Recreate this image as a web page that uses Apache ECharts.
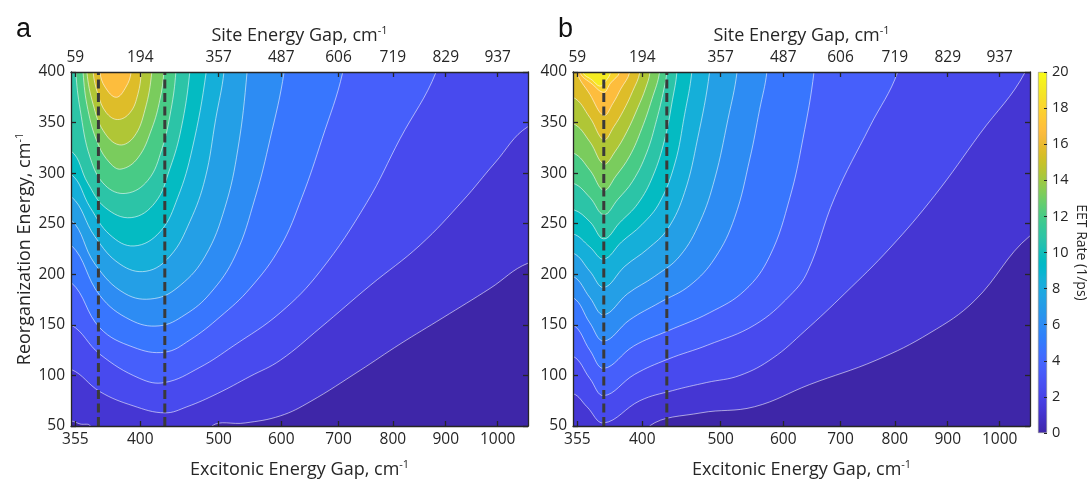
<!DOCTYPE html>
<html>
<head>
<meta charset="utf-8">
<script src="https://cdn.jsdelivr.net/npm/echarts@6/dist/echarts.min.js"></script>
<style>
  html, body { margin: 0; padding: 0; background: #fff; }
  #chart { width: 1089px; height: 484px; }
</style>
</head>
<body>
<div id="chart"></div>
<script>
// Shared tick marks: positions on the (linear) site energy gap scale
const siteGapTicks = [59, 194, 357, 487, 606, 719, 829, 937];
const siteGapLabels = ['59', '194', '357', '487', '606', '719', '829', '937'];
const excitonicGapLabels = ['355', '400', '500', '600', '700', '800', '900', '1000'];
const siteGapRange = [50, 1000];
const reorgRange = [50, 400];
const rateRange = [0, 20];

// Dashed guide lines (site energy gap, cm-1)
const guidesA = [107, 245];
const guidesB = [114, 245];

// Contour levels of the EET rate (1/ps)
const levelsA = [1.2, 2.4, 3.6, 4.8, 6.0, 7.2, 8.4, 9.6, 10.8, 12.0, 13.2, 14.4, 15.6, 16.8];
const levelsB = [1.2, 2.4, 3.6, 4.8, 6.0, 7.2, 8.4, 9.6, 10.8, 12.0, 13.2, 14.4, 15.6, 16.8, 18.0, 19.2];

// Contour lines, panel a: pieces of [site gap, reorganization energy],
// each running with the higher-rate side on its left
const a01 = [[[50, 55], [69, 52], [90, 50]],
             [[343, 50], [412, 53], [485, 60], [547, 74], [651, 105], [734, 131], [823, 157], [921, 186], [1000, 211]]];
const a02 = [[[50, 106], [110, 84], [179, 70], [245, 63], [291, 69], [354, 82], [422, 99], [485, 115], [568, 147], [672, 189], [776, 229], [865, 273], [931, 310], [1000, 346]]];
const a03 = [[[50, 150], [110, 121], [193, 97], [245, 93], [318, 108], [387, 129], [485, 162], [568, 203], [665, 271], [734, 334], [809, 400]]];
const a04 = [[[50, 192], [110, 147], [179, 128], [245, 123], [297, 135], [360, 158], [422, 186], [485, 227], [530, 276], [572, 334], [615, 400]]];
const a05 = [[[50, 229], [110, 179], [173, 155], [233, 149], [287, 160], [339, 181], [391, 218], [433, 276], [464, 334], [493, 400]]];
const a06 = [[[50, 254], [100, 210], [162, 181], [223, 176], [277, 189], [329, 218], [370, 266], [397, 324], [416, 400]]];
const a07 = [[[50, 277], [100, 237], [152, 210], [206, 203], [256, 218], [297, 252], [329, 295], [351, 354], [368, 400]]];
const a08 = [[[50, 299], [90, 266], [131, 239], [181, 228], [235, 242], [272, 276], [302, 324], [331, 400]]];
const a09 = [[[50, 322], [85, 290], [121, 266], [175, 256], [225, 271], [256, 305], [279, 344], [297, 400]]];
const a10 = [[[60, 400], [69, 363], [90, 315], [121, 288], [164, 280], [210, 293], [239, 324], [258, 363], [268, 400]]];
const a11 = [[[75, 400], [85, 363], [106, 329], [131, 310], [154, 304], [189, 315], [218, 344], [235, 373], [243, 400]]];
const a12 = [[[83, 400], [96, 368], [117, 342], [150, 328], [181, 336], [204, 363], [218, 400]]];
const a13 = [[[96, 400], [106, 378], [123, 360], [147, 353], [173, 360], [189, 378], [196, 400]]];
const a14 = [[[110, 400], [121, 385], [144, 375], [164, 385], [175, 400]]];

// Contour lines, panel b
const b01 = [[[209, 50], [316, 63], [427, 69], [542, 91], [680, 115], [792, 142], [885, 174], [1000, 238]]];
const b02 = [[[50, 82], [79, 69], [114, 53], [189, 75], [257, 85], [328, 93], [397, 100], [465, 117], [532, 144], [615, 181], [709, 226], [802, 278], [896, 339], [990, 400]]];
const b03 = [[[50, 119], [85, 97], [114, 80], [178, 101], [247, 116], [330, 130], [428, 150], [501, 179], [538, 203], [594, 276], [667, 346], [725, 400]]];
const b04 = [[[50, 150], [85, 125], [114, 107], [176, 129], [247, 144], [334, 162], [407, 184], [459, 218], [501, 276], [528, 334], [551, 400]]];
const b05 = [[[50, 177], [85, 152], [114, 134], [168, 155], [230, 172], [293, 189], [345, 216], [386, 256], [418, 315], [438, 363], [453, 400]]];
const b06 = [[[50, 198], [85, 177], [114, 160], [164, 181], [220, 198], [272, 218], [314, 252], [345, 295], [372, 353], [391, 400]]];
const b07 = [[[50, 221], [85, 203], [114, 187], [158, 208], [205, 225], [247, 245], [282, 281], [309, 334], [334, 400]]];
const b08 = [[[50, 240], [85, 227], [114, 215], [151, 232], [193, 249], [230, 271], [262, 310], [282, 358], [297, 400]]];
const b09 = [[[50, 264], [85, 252], [114, 235], [147, 251], [185, 270], [216, 297], [241, 334], [257, 373], [266, 400]]];
const b10 = [[[50, 290], [85, 276], [114, 259], [143, 274], [174, 292], [203, 320], [224, 353], [239, 383], [245, 400]]];
const b11 = [[[50, 320], [85, 303], [114, 283], [139, 297], [168, 317], [193, 344], [214, 373], [230, 400]]];
const b12 = [[[50, 349], [85, 331], [114, 309], [137, 321], [162, 341], [185, 365], [201, 384], [210, 400]]];
const b13 = [[[50, 375], [85, 355], [114, 333], [135, 346], [155, 362], [174, 381], [189, 400]]];
const b14 = [[[58, 400], [85, 378], [114, 357], [133, 369], [149, 383], [168, 400]]];
const b15 = [[[64, 400], [90, 388], [114, 380], [128, 389], [147, 400]]];
const b16 = [[[70, 400], [90, 392], [106, 386], [118, 391], [128, 400]]];

const contoursA = [a01, a02, a03, a04, a05, a06, a07, a08, a09, a10, a11, a12, a13, a14];
const contoursB = [b01, b02, b03, b04, b05, b06, b07, b08, b09, b10, b11, b12, b13, b14, b15, b16];

// Parula colormap, 64 entries
const PARULA = [
  [0.2422,0.1504,0.6603],[0.2504,0.1650,0.7076],[0.2578,0.1818,0.7511],[0.2647,0.1978,0.7952],
  [0.2706,0.2147,0.8364],[0.2751,0.2342,0.8710],[0.2783,0.2559,0.8991],[0.2803,0.2782,0.9221],
  [0.2813,0.3006,0.9414],[0.2810,0.3228,0.9579],[0.2795,0.3447,0.9717],[0.2760,0.3667,0.9829],
  [0.2699,0.3892,0.9906],[0.2602,0.4123,0.9952],[0.2440,0.4358,0.9988],[0.2206,0.4603,0.9973],
  [0.1963,0.4847,0.9892],[0.1834,0.5074,0.9798],[0.1786,0.5289,0.9682],[0.1764,0.5499,0.9520],
  [0.1687,0.5703,0.9359],[0.1540,0.5902,0.9218],[0.1460,0.6091,0.9079],[0.1380,0.6276,0.8973],
  [0.1248,0.6459,0.8883],[0.1113,0.6635,0.8763],[0.0952,0.6798,0.8598],[0.0689,0.6948,0.8394],
  [0.0297,0.7082,0.8163],[0.0036,0.7203,0.7917],[0.0067,0.7312,0.7660],[0.0433,0.7411,0.7394],
  [0.0964,0.7500,0.7120],[0.1408,0.7584,0.6842],[0.1717,0.7670,0.6554],[0.1938,0.7758,0.6251],
  [0.2161,0.7843,0.5923],[0.2470,0.7918,0.5567],[0.2906,0.7973,0.5188],[0.3406,0.8008,0.4789],
  [0.3909,0.8029,0.4354],[0.4456,0.8024,0.3909],[0.5044,0.7993,0.3480],[0.5616,0.7942,0.3045],
  [0.6174,0.7876,0.2612],[0.6720,0.7793,0.2227],[0.7242,0.7698,0.1910],[0.7738,0.7598,0.1646],
  [0.8203,0.7498,0.1535],[0.8634,0.7406,0.1596],[0.9035,0.7330,0.1774],[0.9393,0.7288,0.2100],
  [0.9728,0.7298,0.2394],[0.9956,0.7434,0.2371],[0.9970,0.7659,0.2199],[0.9952,0.7893,0.2028],
  [0.9892,0.8136,0.1885],[0.9786,0.8386,0.1766],[0.9676,0.8639,0.1643],[0.9610,0.8890,0.1537],
  [0.9597,0.9135,0.1423],[0.9628,0.9373,0.1265],[0.9691,0.9606,0.1064],[0.9769,0.9839,0.0805]
];

function parula(t) {
  t = Math.max(0, Math.min(1, t));
  const f = t * 63, i = Math.floor(f), j = Math.min(i + 1, 63), r = f - i;
  const c = PARULA[i].map((v, k) => Math.round((v + (PARULA[j][k] - v) * r) * 255));
  return 'rgb(' + c.join(',') + ')';
}
const rateColor = v => parula((v - rateRange[0]) / (rateRange[1] - rateRange[0]));

const INK = '#262626';
const FONT = 'Open Sans';

// Closes the contour pieces of one level into the region where the rate
// exceeds that level, walking the plot frame counter-clockwise between pieces.
function regionPoints(pieces, api, rect) {
  const x0 = rect.x, x1 = rect.x + rect.width, y0 = rect.y, y1 = rect.y + rect.height;
  const W = rect.width, H = rect.height, P = 2 * W + 2 * H, m = 24;
  function onFrame(p) {
    const d = [Math.abs(p[1] - y1), Math.abs(p[0] - x1), Math.abs(p[1] - y0), Math.abs(p[0] - x0)];
    let e = 0;
    for (let k = 1; k < 4; k++) if (d[k] < d[e]) e = k;
    let t;
    if (e === 0) t = p[0] - x0;
    else if (e === 1) t = W + (y1 - p[1]);
    else if (e === 2) t = W + H + (x1 - p[0]);
    else t = 2 * W + H + (p[1] - y0);
    return { e, t: ((t % P) + P) % P };
  }
  function outward(p, e) {
    if (e === 0) return [p[0], y1 + m];
    if (e === 1) return [x1 + m, p[1]];
    if (e === 2) return [p[0], y0 - m];
    return [x0 - m, p[1]];
  }
  const corners = [
    { t: 0, p: [x0 - m, y1 + m] }, { t: W, p: [x1 + m, y1 + m] },
    { t: W + H, p: [x1 + m, y0 - m] }, { t: 2 * W + H, p: [x0 - m, y0 - m] }
  ];
  const segs = pieces.map(pc => {
    const px = pc.map(v => api.coord(v));
    return { px, s: onFrame(px[0]), e: onFrame(px[px.length - 1]) };
  });
  const out = [];
  let cur = 0;
  for (let guard = 0; guard <= segs.length; guard++) {
    const sg = segs[cur];
    out.push(outward(sg.px[0], sg.s.e));
    sg.px.forEach(p => out.push(p));
    out.push(outward(sg.px[sg.px.length - 1], sg.e.e));
    let next = 0, best = Infinity;
    segs.forEach((o, j) => {
      let d = (o.s.t - sg.e.t + P) % P;
      if (d === 0) d = P;
      if (d < best) { best = d; next = j; }
    });
    corners
      .map(c => ({ c, d: (c.t - sg.e.t + P) % P }))
      .filter(o => o.d > 0 && o.d < best)
      .sort((u, v) => u.d - v.d)
      .forEach(o => out.push(o.c.p));
    if (next === 0) break;
    cur = next;
  }
  return out;
}

function contourSeries(contours, levels, axisIndex) {
  return {
    type: 'custom',
    xAxisIndex: axisIndex, yAxisIndex: axisIndex,
    coordinateSystem: 'cartesian2d',
    clip: true,
    z: 2,
    silent: true,
    data: levels.map(v => [siteGapRange[0], reorgRange[0], v]),
    renderItem: function (params, api) {
      const rect = params.coordSys;
      const i = params.dataIndex;
      return {
        type: 'group',
        clipPath: { type: 'rect', shape: { x: rect.x, y: rect.y, width: rect.width, height: rect.height } },
        children: [{
          type: 'polygon',
          shape: { points: regionPoints(contours[i], api, rect), smooth: 0.4 },
          style: { fill: rateColor(levels[i]), stroke: 'rgba(255,255,255,0.75)', lineWidth: 0.75 }
        }]
      };
    }
  };
}

function guideSeries(x, axisIndex) {
  return {
    type: 'line',
    xAxisIndex: axisIndex, yAxisIndex: axisIndex,
    data: [[x, reorgRange[0]], [x, reorgRange[1]]],
    symbol: 'none', silent: true, z: 5,
    lineStyle: { color: '#3a3a3a', width: 3, type: [9, 4.5] }
  };
}

function richName(main) {
  return '{t|' + main + '}{s|-1}';
}
const nameRich = {
  t: { fontSize: 18, lineHeight: 22, fontFamily: FONT, color: INK },
  s: { fontSize: 11, lineHeight: 11, verticalAlign: 'top', fontFamily: FONT, color: INK }
};

function gapAxis(grid, position, labels, name, nameGap) {
  return {
    type: 'value', gridIndex: grid, position: position,
    min: siteGapRange[0], max: siteGapRange[1],
    z: 10,
    axisLine: { show: true, onZero: false, lineStyle: { color: INK, width: 1.3 } },
    axisTick: { show: true, inside: true, length: 5, customValues: siteGapTicks, lineStyle: { color: INK, width: 1.3 } },
    axisLabel: {
      customValues: siteGapTicks, margin: 6, fontSize: 15.5, fontFamily: FONT, color: INK,
      formatter: v => labels[siteGapTicks.indexOf(v)]
    },
    splitLine: { show: false },
    name: richName(name), nameLocation: 'middle', nameGap: nameGap,
    nameTextStyle: { rich: nameRich }
  };
}

function reorgAxis(grid, position, withLabels) {
  return {
    type: 'value', gridIndex: grid, position: position,
    min: reorgRange[0], max: reorgRange[1], interval: 50,
    z: 10,
    axisLine: { show: true, onZero: false, lineStyle: { color: INK, width: 1.3 } },
    axisTick: { show: true, inside: true, length: 5, lineStyle: { color: INK, width: 1.3 } },
    axisLabel: { show: withLabels, margin: 6, fontSize: 15.5, fontFamily: FONT, color: INK },
    splitLine: { show: false }
  };
}

const yA = reorgAxis(0, 'left', true);
yA.name = richName('Reorganization Energy, cm');
yA.nameLocation = 'middle';
yA.nameGap = 35;
yA.nameRotate = 90;
yA.nameTextStyle = { rich: nameRich };

const colorStops = PARULA.map((c, i) => ({
  offset: i / 63,
  color: 'rgb(' + c.map(v => Math.round(v * 255)).join(',') + ')'
}));

const option = {
  animation: false,
  backgroundColor: '#fff',
  title: [
    { text: 'a', left: 11, top: 11, textStyle: { fontSize: 27, fontWeight: 'normal', color: '#111', fontFamily: 'Liberation Sans' } },
    { text: 'b', left: 553, top: 11, textStyle: { fontSize: 27, fontWeight: 'normal', color: '#111', fontFamily: 'Liberation Sans' } }
  ],
  grid: [
    { left: 71, top: 72, width: 457, height: 361, show: true, backgroundColor: rateColor(0), borderWidth: 0 },
    { left: 573, top: 72, width: 457, height: 361, show: true, backgroundColor: rateColor(0), borderWidth: 0 },
    { left: 1038, top: 72, width: 10, height: 361 }
  ],
  xAxis: [
    gapAxis(0, 'bottom', excitonicGapLabels, 'Excitonic Energy Gap, cm', 33),
    gapAxis(0, 'top', siteGapLabels, 'Site Energy Gap, cm', 20),
    gapAxis(1, 'bottom', excitonicGapLabels, 'Excitonic Energy Gap, cm', 33),
    gapAxis(1, 'top', siteGapLabels, 'Site Energy Gap, cm', 20),
    { type: 'category', gridIndex: 2, data: ['rate'], show: false }
  ],
  yAxis: [
    yA,
    reorgAxis(0, 'right', false),
    reorgAxis(1, 'left', true),
    reorgAxis(1, 'right', false),
    {
      type: 'value', gridIndex: 2, position: 'right',
      min: rateRange[0], max: rateRange[1], interval: 2,
      z: 10,
      axisLine: { show: false },
      axisTick: { show: true, inside: true, length: 3, lineStyle: { color: INK, width: 1 } },
      axisLabel: { margin: 5, fontSize: 14.5, fontFamily: FONT, color: INK },
      splitLine: { show: false },
      name: 'EET Rate (1/ps)', nameLocation: 'middle', nameRotate: -90, nameGap: 27,
      nameTextStyle: { fontSize: 14, fontFamily: FONT, color: INK }
    }
  ],
  series: [
    contourSeries(contoursA, levelsA, 0),
    contourSeries(contoursB, levelsB, 2),
    ...guidesA.map(x => guideSeries(x, 0)),
    ...guidesB.map(x => guideSeries(x, 2)),
    {
      type: 'bar', xAxisIndex: 4, yAxisIndex: 4, data: [rateRange[1]],
      barWidth: '100%', silent: true,
      itemStyle: {
        color: { type: 'linear', x: 0, y: 1, x2: 0, y2: 0, colorStops: colorStops },
        borderColor: '#8a8a8a', borderWidth: 0.6
      }
    }
  ]
};

const chart = echarts.init(document.getElementById('chart'), null, { renderer: 'canvas' });
chart.setOption(option);
</script>
</body>
</html>
